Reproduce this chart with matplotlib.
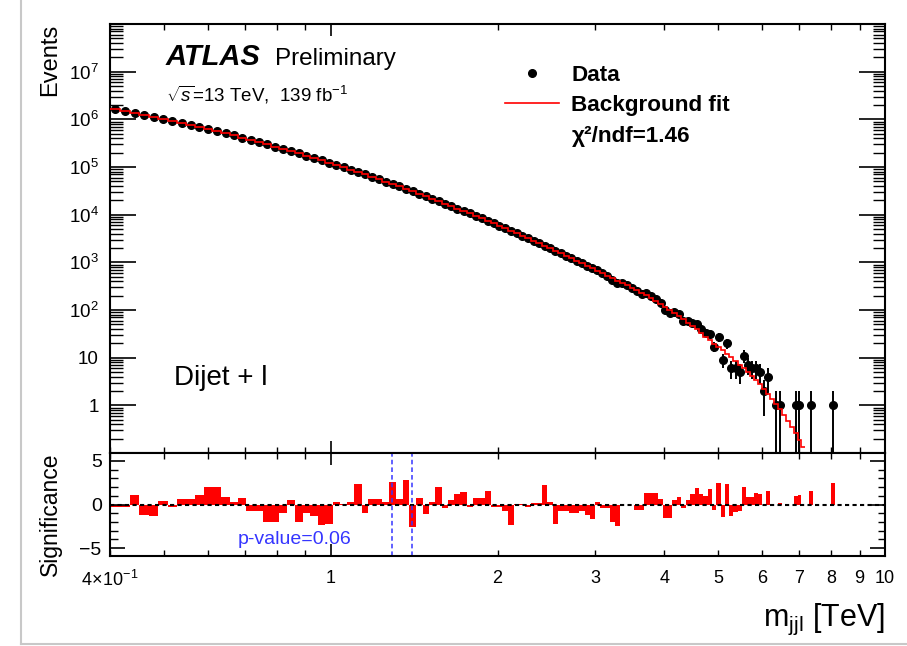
import numpy as np
import matplotlib
matplotlib.use('Agg')
import matplotlib.pyplot as plt
from matplotlib.ticker import FixedLocator, FixedFormatter, NullFormatter, MultipleLocator
from matplotlib.lines import Line2D

plt.rcParams['font.family'] = ['Liberation Sans', 'DejaVu Sans']
plt.rcParams['mathtext.fontset'] = 'custom'
plt.rcParams['mathtext.rm'] = 'Liberation Sans'
plt.rcParams['mathtext.it'] = 'Liberation Sans:italic'
plt.rcParams['mathtext.bf'] = 'Liberation Sans:bold'

# m_jjl bin edges [TeV]
bin_edges = np.array([
    0.400, 0.417, 0.434, 0.452, 0.470, 0.489, 0.508, 0.528, 0.549, 0.569,
    0.591, 0.612, 0.635, 0.658, 0.681, 0.705, 0.730, 0.755, 0.781, 0.807,
    0.834, 0.862, 0.890, 0.919, 0.948, 0.978, 1.008, 1.039, 1.071, 1.104,
    1.137, 1.170, 1.205, 1.240, 1.276, 1.312, 1.349, 1.387, 1.425, 1.465,
    1.504, 1.545, 1.586, 1.628, 1.671, 1.715, 1.759, 1.804, 1.850, 1.896,
    1.944, 1.992, 2.041, 2.090, 2.141, 2.192, 2.244, 2.297, 2.350, 2.405,
    2.460, 2.516, 2.573, 2.631, 2.690, 2.749, 2.810, 2.871, 2.933, 2.996,
    3.060, 3.125, 3.190, 3.257, 3.325, 3.393, 3.462, 3.533, 3.604, 3.676,
    3.749, 3.823, 3.898, 3.974, 4.051, 4.129, 4.208, 4.288, 4.369, 4.451,
    4.534, 4.618, 4.703, 4.789, 4.876, 4.964, 5.054, 5.144, 5.235, 5.328,
    5.421, 5.516, 5.611, 5.708, 5.805, 5.904, 6.004, 6.105, 6.207, 6.310,
    6.415, 6.520, 6.626, 6.734, 6.843, 6.953, 7.064, 7.176, 7.289, 7.403,
    7.519, 7.636, 7.754, 7.873, 7.994, 8.116, 8.239])

# background fit, events per bin
fit_counts = np.array([
    1.61e6, 1.47e6, 1.35e6, 1.23e6, 1.12e6, 1.02e6, 9.29e5, 8.41e5, 7.64e5, 6.90e5,
    6.25e5, 5.65e5, 5.09e5, 4.59e5, 4.14e5, 3.72e5, 3.34e5, 3.00e5, 2.69e5, 2.42e5,
    2.16e5, 1.93e5, 1.73e5, 1.55e5, 1.38e5, 1.24e5, 1.10e5, 9.86e4, 8.77e4, 7.82e4,
    6.98e4, 6.21e4, 5.52e4, 4.92e4, 4.38e4, 3.90e4, 3.47e4, 3.08e4, 2.74e4, 2.43e4,
    2.16e4, 1.92e4, 1.71e4, 1.51e4, 1.34e4, 1.19e4, 1.06e4, 9.38e3, 8.34e3, 7.40e3,
    6.55e3, 5.81e3, 5.15e3, 4.57e3, 4.06e3, 3.60e3, 3.19e3, 2.83e3, 2.51e3, 2.23e3,
    1.97e3, 1.75e3, 1.55e3, 1.38e3, 1.22e3, 1.08e3, 960, 851, 755, 670,
    594, 527, 469, 415, 369, 327, 290, 258, 229, 203,
    178, 155, 133, 115, 100, 86.1, 74.1, 63.2, 54.0, 46.0,
    39.2, 33.0, 27.8, 23.5, 19.8, 16.7, 14.2, 12.0, 10.1, 8.51,
    7.16, 5.98, 4.97, 4.12, 3.40, 2.81, 2.25, 1.77, 1.38, 1.07,
    0.822, 0.628, 0.476, 0.356, 0.261, 0.190, 0.134])

# observed events per bin
data_counts = np.array([
    1.61e6, 1.47e6, 1.35e6, 1.23e6, 1.12e6, 1.02e6, 9.29e5, 8.41e5, 7.64e5, 6.90e5,
    6.25e5, 5.65e5, 5.09e5, 4.59e5, 4.14e5, 3.72e5, 3.34e5, 3.00e5, 2.69e5, 2.42e5,
    2.16e5, 1.93e5, 1.73e5, 1.55e5, 1.38e5, 1.24e5, 1.10e5, 9.86e4, 8.77e4, 7.82e4,
    6.98e4, 6.21e4, 5.52e4, 4.92e4, 4.38e4, 3.90e4, 3.47e4, 3.08e4, 2.74e4, 2.43e4,
    2.16e4, 1.92e4, 1.71e4, 1.51e4, 1.34e4, 1.19e4, 1.06e4, 9.38e3, 8.34e3, 7.40e3,
    6.55e3, 5.81e3, 5.15e3, 4.57e3, 4.06e3, 3.60e3, 3.19e3, 2.83e3, 2.51e3, 2.23e3,
    1.97e3, 1.75e3, 1.55e3, 1.38e3, 1.22e3, 1.08e3, 960, 851, 755, 678,
    584, 518, 426, 364, 369, 327, 288, 248, 220, 222,
    195, 171, 140, 99, 85, 91, 82, 60, 58, 54,
    51, 40, 33, 32, 17, 27, 9, 20, 6, 6,
    5, 11, 7, 6, 6, 5, 2, 4, 0, 1,
    1, 0, 0, 0, 1, 1, 0, 0, 1, 0,
    0, 0, 0, 0, 1, 0])

# significance per bin
significance = np.array([
    -0.3, -0.3, 1.05, -1.2, -1.35, 0.4, -0.3, 0.6, 0.6, 1.1,
    2.0, 2.0, 0.9, 0.3, 0.8, -0.7, -0.7, -2.0, -2.0, -1.0,
    0.5, -2.0, -1.0, -1.3, -2.3, -2.2, 0.3, 0.1, 0.3, 2.3,
    -1.0, 0.6, 0.6, 0.3, 2.6, 0.6, 2.8, -2.6, 0.8, -1.1,
    0.3, 2.0, -0.4, 0.5, 1.2, 1.4, -0.3, 0.7, 0.7, 1.6,
    -0.3, -0.3, -0.7, -2.3, 0.05, 0.05, -0.3, 0.2, 0.2, 2.2,
    0.3, -2.2, -0.8, -0.8, -1.0, -1.0, -0.8, -1.2, -1.7, 0.3,
    -0.4, -0.4, -2.0, -2.5, 0.0, 0.0, -0.1, -0.6, -0.6, 1.3,
    1.3, 1.3, 0.6, -1.5, -1.5, 0.5, 0.9, -0.4, 0.5, 1.2,
    1.9, 1.2, 1.0, 1.75, -0.6, 2.5, -1.4, 2.3, -1.3, -0.9,
    -0.8, 2.0, 0.9, 0.9, 1.3, 1.2, -0.1, 1.5, 0.0, 0.0,
    0.2, 0.0, 0.0, 0.0, 1.0, 1.1, 0.0, 0.0, 1.6, 0.0,
    0.0, 0.0, 0.0, 0.0, 2.5, 0.0])

window_edges = [1.29, 1.40]   # most significant window
p_value = 0.06
chi2_ndf = 1.46

x_major = [1, 10]
x_major_labels = ['1', '10']
x_minor = [0.4, 0.5, 0.6, 0.7, 0.8, 0.9, 2, 3, 4, 5, 6, 7, 8, 9]
x_minor_labels = [r'$\mathregular{4\!\times\!10^{-1}}$', '', '', '', '', '',
                  '2', '3', '4', '5', '6', '7', '8', '9']
y_major = [1, 10, 1e2, 1e3, 1e4, 1e5, 1e6, 1e7]
y_major_labels = ['1', '10', r'$10^{2}$', r'$10^{3}$', r'$10^{4}$', r'$10^{5}$', r'$10^{6}$', r'$10^{7}$']

W, H = 907, 646
fig = plt.figure(figsize=(W / 100, H / 100), dpi=100)
left, right = 110 / W, 885 / W
ax = fig.add_axes([left, 1 - 453 / H, right - left, (453 - 24) / H])
ax2 = fig.add_axes([left, 1 - 556 / H, right - left, (556 - 453) / H])

centers = 0.5 * (bin_edges[:-1] + bin_edges[1:])
has = data_counts > 0
d = data_counts[has]
err = np.sqrt(d)
lo = d - np.maximum(d - err, 1e-3)
ax.errorbar(centers[has], d, yerr=[lo, err], fmt='o', color='black', ms=5.5,
            elinewidth=1.4, capsize=0, zorder=3)
ax.stairs(fit_counts, bin_edges[:len(fit_counts) + 1], color='red', lw=1.2,
          baseline=None, zorder=4)

ax.set_xscale('log')
ax.set_yscale('log')
ax.set_xlim(0.4, 10)
ax.set_ylim(0.1, 1e8)
ax.xaxis.set_major_locator(FixedLocator(x_major))
ax.xaxis.set_minor_locator(FixedLocator(x_minor))
ax.xaxis.set_major_formatter(NullFormatter())
ax.xaxis.set_minor_formatter(NullFormatter())
ax.yaxis.set_major_locator(FixedLocator(y_major))
ax.yaxis.set_major_formatter(FixedFormatter(y_major_labels))
ax.yaxis.set_minor_locator(FixedLocator([k * 10.0 ** e for e in range(-1, 8) for k in range(2, 10)]))
ax.yaxis.set_minor_formatter(NullFormatter())
ax.tick_params(axis='y', which='major', direction='in', length=18.5, width=1.2,
               left=True, right=True, labelsize=13.5, pad=8)
ax.tick_params(axis='y', which='minor', direction='in', length=9, width=1.0, left=True, right=True)
ax.tick_params(axis='x', which='major', direction='in', length=8.6, width=1.2, top=True, bottom=True)
ax.tick_params(axis='x', which='minor', direction='in', length=4.3, width=1.0, top=True, bottom=True)

ax.legend(handles=[Line2D([], [], marker='o', ls='none', color='black', ms=5.5),
                   Line2D([], [], color='red', lw=1.2),
                   Line2D([], [], ls='none')],
          labels=['Data', 'Background fit', '\u03c7\u00b2/ndf=%.2f' % chi2_ndf],
          loc='upper left', bbox_to_anchor=(0.5097, 0.905), frameon=False,
          prop={'weight': 'bold', 'size': 16.2}, handlelength=2.4, handletextpad=0.55,
          labelspacing=0.42, borderpad=0, borderaxespad=0)

# lower panel
ax2.stairs(significance, bin_edges, fill=True, color='red', baseline=0, lw=0)
ax2.axhline(0, color='black', ls=(0, (2, 1.6)), lw=1.5)
for m in window_edges:
    ax2.axvline(m, color='#3535ff', ls=(0, (3, 2)), lw=1.1)
ax2.set_xscale('log')
ax2.set_xlim(0.4, 10)
ax2.set_ylim(-5.9, 5.9)
ax2.xaxis.set_major_locator(FixedLocator(x_major))
ax2.xaxis.set_major_formatter(FixedFormatter(x_major_labels))
ax2.xaxis.set_minor_locator(FixedLocator(x_minor))
ax2.xaxis.set_minor_formatter(FixedFormatter(x_minor_labels))
ax2.yaxis.set_major_locator(FixedLocator([-5, 0, 5]))
ax2.yaxis.set_major_formatter(FixedFormatter(['\u22125', '0', '5']))
ax2.yaxis.set_minor_locator(MultipleLocator(1))
ax2.tick_params(axis='y', which='major', direction='in', length=10.8, width=1.2,
                left=True, right=True, labelsize=14, pad=6)
ax2.tick_params(axis='y', which='minor', direction='in', length=5.4, width=1.0, left=True, right=True)
ax2.tick_params(axis='x', which='major', direction='in', length=8.6, width=1.2, top=True,
                labelsize=13, pad=10)
ax2.tick_params(axis='x', which='minor', direction='in', length=4.3, width=1.0, top=True,
                labelsize=13, pad=10)

for a in (ax, ax2):
    for s in a.spines.values():
        s.set_linewidth(1.5)

# texts
fig.text(166 / W, 1 - 65 / H, 'ATLAS', fontsize=21, fontweight='bold', style='italic', va='baseline')
fig.text(275 / W, 1 - 65 / H, 'Preliminary', fontsize=17.5, va='baseline')
fig.text(166 / W, 1 - 101 / H, r'$\sqrt{s}$=13 TeV,  139 fb$^{-1}$', fontsize=13.5, va='baseline')
fig.text(174 / W, 1 - 378 / H, 'Dijet + l', fontsize=20, va='center')
fig.text(50 / W, 1 - 24 / H, 'Events', rotation=90, va='top', ha='center', fontsize=17)
fig.text(50 / W, 1 - 452 / H, 'Significance', rotation=90, va='top', ha='center', fontsize=16.5)
fig.text(238 / W, 1 - 540 / H, 'p-value=%.2f' % p_value, color='#3535ff', fontsize=14, va='center')
fig.text(885 / W, 1 - 626 / H, r'm$_{\rm jjl}$ [TeV]', ha='right', va='baseline', fontsize=22)

# page edge from the screenshot
fig.add_artist(Line2D([21 / W, 21 / W], [1 - 644 / H, 1], color='#c8c8c8', lw=1.5))
fig.add_artist(Line2D([21 / W, 1], [1 - 644 / H, 1 - 644 / H], color='#c8c8c8', lw=1.5))

fig.savefig('out.png', dpi=100)
